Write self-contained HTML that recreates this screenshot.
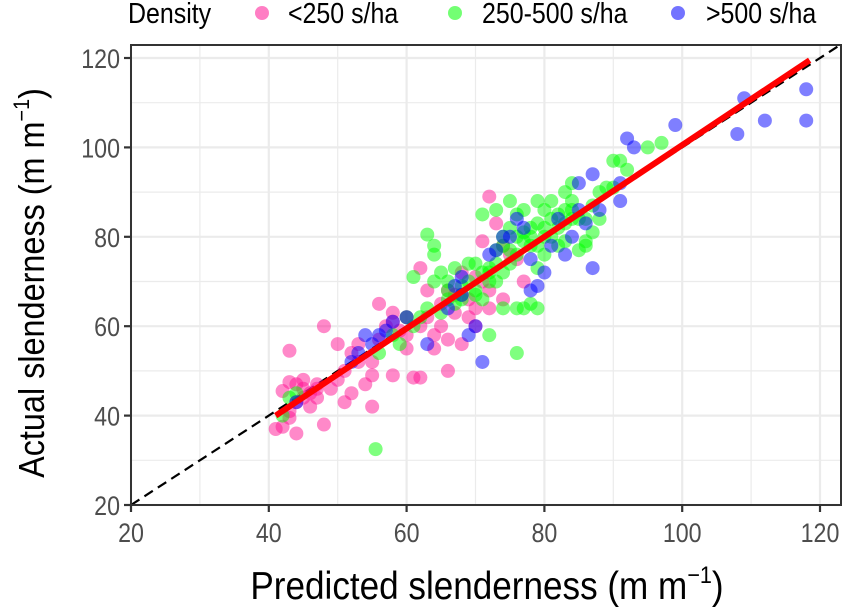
<!DOCTYPE html>
<html><head><meta charset="utf-8"><style>
body{margin:0;background:#fff;}
svg{display:block;font-family:"Liberation Sans",sans-serif;}
</style></head><body>
<svg id="chart" width="850" height="611">
<g id="grid"></g>
<g id="refline"></g>
<g id="points"></g>
<g id="fit"></g>
<rect x="131" y="45" width="710" height="460" fill="none" stroke="#333" stroke-width="2"/>
<g id="axes"></g>
<text transform="translate(487,599) scale(0.9,1)" font-size="39" text-anchor="middle">Predicted slenderness (m m<tspan dy="-16" font-size="24">−1</tspan><tspan dy="16">)</tspan></text>
<text transform="translate(44,283) rotate(-90) scale(0.9,1)" font-size="36" text-anchor="middle">Actual slenderness (m m<tspan dy="-15" font-size="22">−1</tspan><tspan dy="15">)</tspan></text>
<g font-size="29">
<text transform="translate(128,23) scale(0.86,1)">Density</text>
<g><circle cx="262" cy="13" r="7" fill="#ff1493" fill-opacity="0.55"/><text transform="translate(288,23) scale(0.86,1)">&lt;250 s/ha</text></g>
<g><circle cx="455" cy="13" r="7" fill="#00ff00" fill-opacity="0.55"/><text transform="translate(482,23) scale(0.86,1)">250-500 s/ha</text></g>
<g><circle cx="678" cy="13" r="7" fill="#0000ff" fill-opacity="0.55"/><text transform="translate(706,23) scale(0.86,1)">&gt;500 s/ha</text></g>
</g>
</svg>
<script>
const xTicks=[20,40,60,80,100,120];
const yTicks=[20,40,60,80,100,120];
const lowPts=[[41,37],[42,37.5],[43,39.5],[44,36],[43,41],[44,43],[45,44],[46,45],[44,47],[43,47.5],[43,54.5],[46,42],[47,46],[48,38],[48,60],[49,46],[50,48],[51,43],[52,45],[52,54],[51,50],[53,56],[54,47],[55,42],[55,49],[56,65],[58,49],[58,61],[60,55],[61,48.5],[62,48.5],[62,73],[60,58],[63,62],[64,58],[65,60],[66,50],[67,63],[68,56],[69,66],[69,62],[70,71],[71,79],[72,89],[72,64],[73,83],[74,78],[75,76],[76,75],[77,70],[70,60],[65,65],[63,68],[58,63],[57,60],[55,52],[50,56],[47,44],[45,48],[42,45.5],[60,62],[66,57],[64,55],[72,68],[74,66],[68,72],[66,68],[70,64],[45,46],[47,47],[53,52],[56,57],[59,59],[62,60],[67,67],[71,70]];
const midPts=[[42,40],[43,44],[44,45],[55.5,32.5],[56,54],[58,58],[60,62],[61,60],[62,62],[63,64],[63,80.5],[64,78],[64,76],[65,72],[66,70],[66,68],[67,73],[68,67],[69,74],[70,68],[71,66],[72,73],[72,72],[73,77],[74,78],[74,80],[75,82],[75,74],[76,85],[76,80],[76,76],[77,81],[77,64],[78,78],[78,65],[79,64],[80,80],[80,86],[81,88],[82,85],[82,82],[83,90],[84,88],[84,86],[85,84],[86,79],[86,84],[87,87],[88,84],[90,97],[91,97],[92,95],[95,100],[97,101],[90,91],[89,91],[88,90],[84,92],[83,86],[79,88],[78,82],[76,54],[68,66],[65,63],[59,56],[61,71],[64,70],[67,65],[70,74],[73,70],[74,64],[72,58],[76,64],[79,73],[80,76],[82,78],[83,79],[86,78],[87,81],[85,77],[81,80],[79,83],[77,86],[75,88],[73,86],[71,85],[66,66],[69,70],[71,72],[73,74],[75,77],[77,79],[78,80],[79,78],[80,82],[81,84],[83,83],[84,84],[74,72],[72,70],[70,67],[68,69]];
const highPts=[[44,43],[52,52],[53,54],[54,58],[55,56],[56,58],[57,59],[58,61],[60,62],[63,56],[66,64],[67,69],[68,71],[69,58],[70,60],[71,52],[72,76],[73,77],[75,80],[76,84],[77,82],[78,75],[78,68],[80,72],[81,78],[82,84],[84,80],[85,86],[86,83],[87,73],[88,86],[91,88],[91,92],[92,102],[93,100],[99,105],[108,103],[109,111],[112,106],[118,106],[118,113],[85,92],[87,94],[79,69],[83,76],[74,80],[68,67]];
const fitLine=[[41,40],[118.5,119.5]];
const NS='http://www.w3.org/2000/svg';
const X=v=>131+(v-20)*6.89, Y=v=>505-(v-20)*4.47;
function mk(tag,attrs,parent){const e=document.createElementNS(NS,tag);for(const k in attrs)e.setAttribute(k,attrs[k]);parent.appendChild(e);return e;}
const grid=document.getElementById('grid');
for(let v=20;v<=120;v+=10){
 const major=v%20===0;
 const gx=mk('line',{x1:X(v),x2:X(v),y1:45,y2:505,stroke:'#ebebeb','stroke-width':major?2.2:1.2},grid);
 
 
 const gy=mk('line',{x1:131,x2:841,y1:Y(v),y2:Y(v),stroke:'#ebebeb','stroke-width':major?2.2:1.2},grid);
 
 
}
const ref=mk('line',{x1:X(20),y1:Y(20),x2:X(123),y2:Y(123),stroke:'#000','stroke-width':2.2,'stroke-dasharray':'10,6'},document.getElementById('refline'));


const pts=document.getElementById('points');
[[lowPts,'#ff1493','point-low'],[midPts,'#00ff00','point-mid'],[highPts,'#0000ff','point-high']].forEach(([arr,col,nm])=>{
 arr.forEach(p=>{
  const c=mk('circle',{cx:X(p[0]),cy:Y(p[1]),r:7,fill:col,'fill-opacity':0.5},pts);
  
  
 });
});
const fl=mk('line',{x1:X(fitLine[0][0]),y1:Y(fitLine[0][1]),x2:X(fitLine[1][0]),y2:Y(fitLine[1][1]),stroke:'#ff0000','stroke-width':6},document.getElementById('fit'));


const axes=document.getElementById('axes');
xTicks.forEach(v=>{
 mk('line',{x1:X(v),x2:X(v),y1:505,y2:512,stroke:'#333','stroke-width':2.2},axes);
 const t=mk('text',{transform:`translate(${X(v)},542) scale(0.86,1)`,'font-size':27,fill:'#4d4d4d','text-anchor':'middle'},axes);
 t.textContent=v;
 
 
});
yTicks.forEach(v=>{
 mk('line',{x1:124,x2:131,y1:Y(v),y2:Y(v),stroke:'#333','stroke-width':2.2},axes);
 const t=mk('text',{transform:`translate(120,${Y(v)+10}) scale(0.86,1)`,'font-size':27,fill:'#4d4d4d','text-anchor':'end'},axes);
 t.textContent=v;
 
 
});
</script>
</body></html>
